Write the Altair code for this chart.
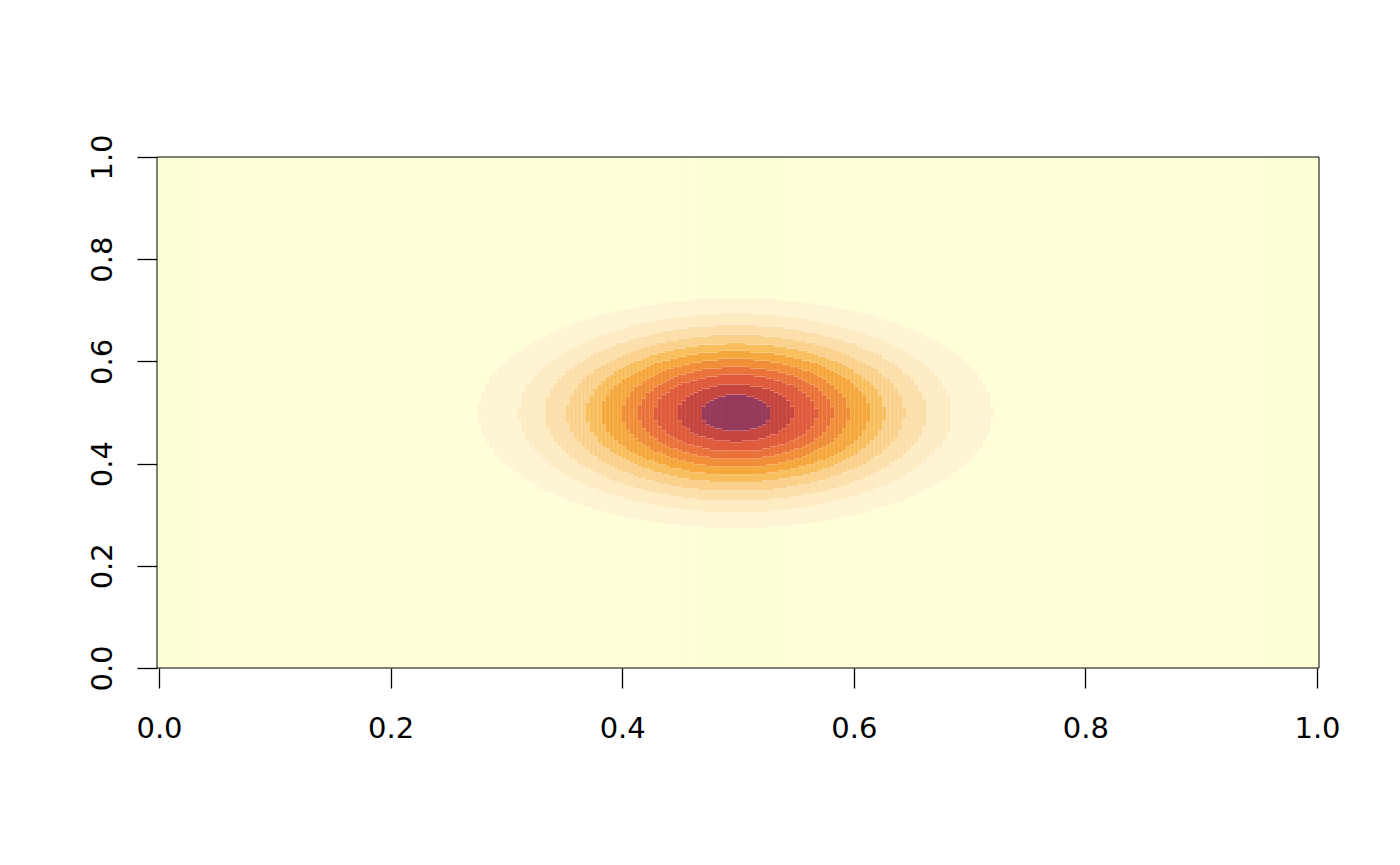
import altair as alt
import pandas as pd
import numpy as np

# Density bands (light -> dark), band 0 is the background
band_colors = ["#FFFFD5", "#FFF4D2", "#FEEBC2", "#FCDEA8", "#FAD08A", "#F8BE5C",
               "#F6A73C", "#F18C37", "#EA7239", "#DF5B3B", "#C6463F", "#963A5B"]
# semi-axes (data units) of each band's outer edge, bands 1..11
band_rx = [0.222, 0.187, 0.165, 0.146, 0.129, 0.116, 0.098, 0.084, 0.070, 0.050, 0.030]
band_ry = [0.225, 0.195, 0.172, 0.153, 0.136, 0.121, 0.106, 0.090, 0.075, 0.056, 0.036]
center_x = 0.498
center_y = 0.499

x_ticks = [0.0, 0.2, 0.4, 0.6, 0.8, 1.0]
y_ticks = [0.0, 0.2, 0.4, 0.6, 0.8, 1.0]

W, H = 1162, 511
nx, ny = 290, 256
hx = 0.5 / (nx - 1)

rows = []
yc = (np.arange(ny) + 0.5) / ny
for i in range(nx):
    xc = i / (nx - 1)
    lev = np.zeros(ny, dtype=int)
    for k, (rx, ry) in enumerate(zip(band_rx, band_ry), start=1):
        inside = ((xc - center_x) / rx) ** 2 + ((yc - center_y) / ry) ** 2 <= 1
        lev[inside] = k
    # merge runs in this column
    start = 0
    for j in range(1, ny + 1):
        if j == ny or lev[j] != lev[start]:
            rows.append({"x0": xc - hx, "x1": xc + hx,
                         "y0": start / ny, "y1": j / ny, "level": int(lev[start])})
            start = j

df = pd.DataFrame(rows)

heat = alt.Chart(df).mark_rect(strokeWidth=0).encode(
    x=alt.X("x0:Q", scale=alt.Scale(domain=[-hx, 1 + hx], nice=False, zero=False),
            axis=alt.Axis(values=x_ticks, format=".1f", title=None)),
    x2="x1:Q",
    y=alt.Y("y0:Q", scale=alt.Scale(domain=[0, 1], nice=False, zero=False),
            axis=alt.Axis(values=y_ticks, format=".1f", title=None,
                          labelAngle=270, labelAlign="center",
                          labelBaseline="alphabetic", labelPadding=26)),
    y2="y1:Q",
    color=alt.Color("level:O", scale=alt.Scale(domain=list(range(12)), range=band_colors),
                    legend=None),
)

border = alt.Chart(pd.DataFrame({"b": [0]})).mark_rect(
    filled=False, stroke="black", strokeWidth=1
).encode(
    x=alt.value(0), x2=alt.value(W), y=alt.value(0), y2=alt.value(H)
)

chart = alt.layer(heat, border).properties(
    width=W, height=H,
    autosize=alt.AutoSizeParams(type="none"),
    padding={"left": 149, "top": 149, "right": 60, "bottom": 180},
).configure_view(
    stroke=None
).configure_axis(
    grid=False, domain=False, tickColor="black", tickSize=20, tickWidth=1.3,
    labelFont="DejaVu Sans", labelFontSize=29, labelColor="black",
    labelFlush=False, labelOverlap=False,
).configure_axisBottom(
    labelBaseline="alphabetic", labelPadding=49
)

chart.save("out.html", embed_options={"renderer": "svg", "actions": False})
